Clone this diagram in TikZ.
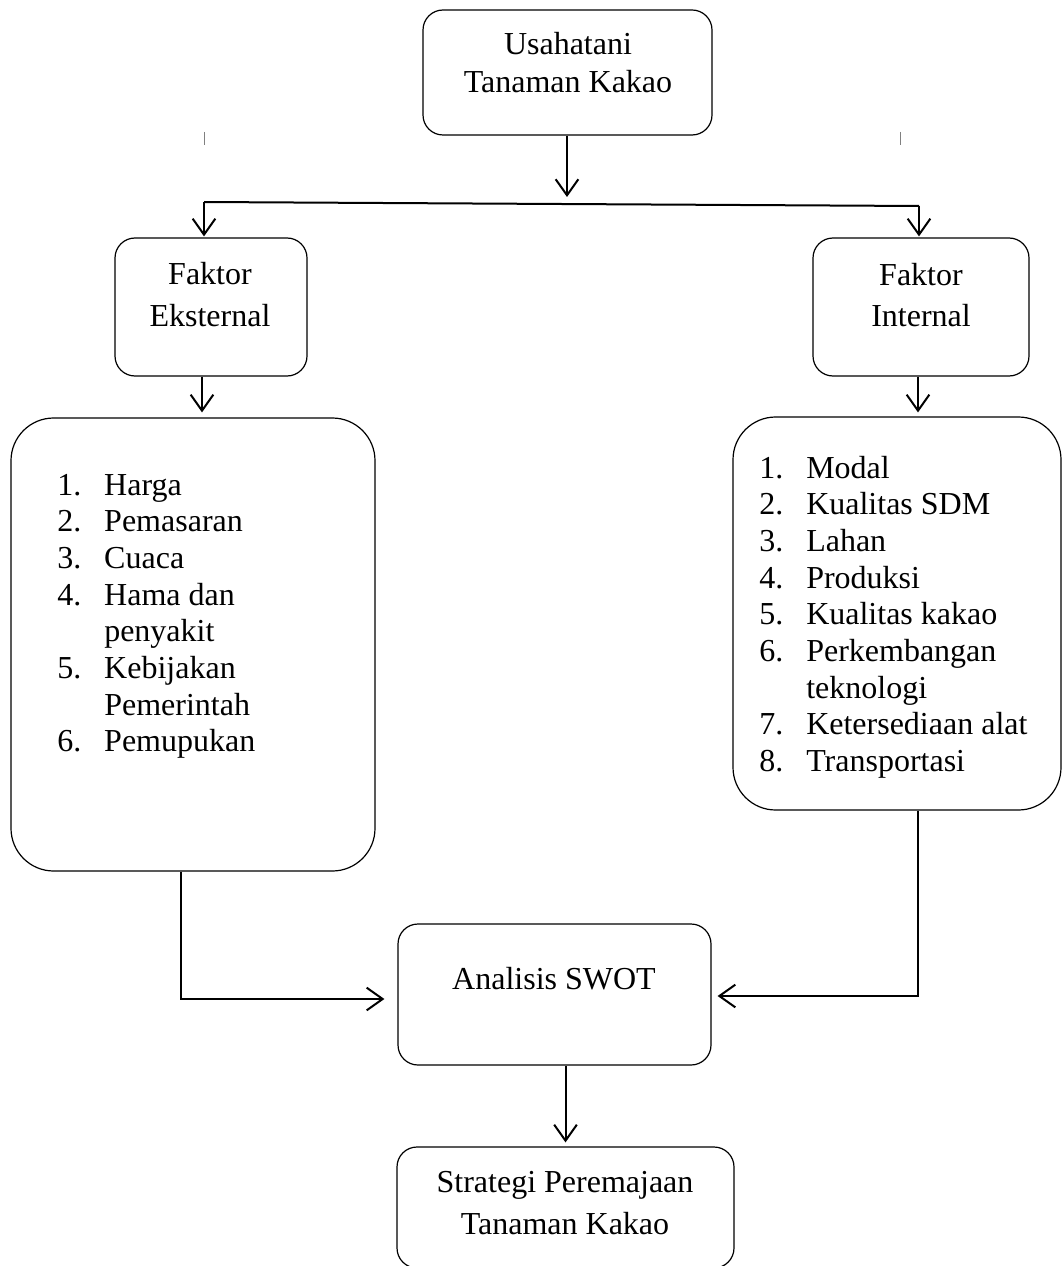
\documentclass[tikz,border=0pt]{standalone}
\usepackage{fontspec}
\setmainfont{Liberation Serif}
\usetikzlibrary{arrows.meta,calc}
\newcommand\numcell[1]{\makebox[35.25pt][l]{#1}}
\begin{document}
\begin{tikzpicture}[x=0.75pt,y=-0.75pt,
  box/.style={draw,line width=0.9pt,rounded corners=15pt,inner sep=0pt},
  bigbox/.style={draw,line width=0.9pt,rounded corners=32pt,inner sep=0pt},
  txt/.style={inner sep=0pt,anchor=base},
  listtxt/.style={inner sep=0pt,anchor=base west},
  conn/.style={line width=1.5pt},
  arr/.style={line width=1.5pt,-{Straight Barb[length=12pt,width=17pt,line width=1.5pt]}},
  tick/.style={line width=0.6pt,gray}]
\useasboundingbox (0,0) rectangle (1062,1266);
% boxes
\node[box,minimum width=216.75pt,minimum height=93.75pt] (top) at (567.5,72.5) {};
\node[box,minimum width=144pt,minimum height=103.5pt] (ekst) at (211,307) {};
\node[box,minimum width=162pt,minimum height=103.5pt] (intl) at (921,307) {};
\node[bigbox,minimum width=273pt,minimum height=339.75pt] (leftbig) at (193,644.5) {};
\node[bigbox,minimum width=246pt,minimum height=294.75pt] (rightbig) at (897,613.5) {};
\node[box,minimum width=234.75pt,minimum height=105.75pt] (swot) at (554.5,994.5) {};
\node[box,minimum width=252.75pt,minimum height=90.75pt] (strat) at (565.5,1207.5) {};
% texts
\node[txt] (toptxt) at (568,55) {\fontsize{24}{28}\selectfont\begin{tabular}[t]{@{}c@{}}Usahatani\\Tanaman Kakao\end{tabular}};
\node[txt] (eksttxt) at (210,284) {\fontsize{24}{32.25}\selectfont\begin{tabular}[t]{@{}c@{}}Faktor\\Eksternal\end{tabular}};
\node[txt] (intltxt) at (921,285) {\fontsize{24}{31.5}\selectfont\begin{tabular}[t]{@{}c@{}}Faktor\\Internal\end{tabular}};
\node[txt] (swottxt) at (554,989) {\fontsize{24}{27.5}\selectfont Analisis SWOT};
\node[txt] (strattxt) at (565,1192) {\fontsize{24}{31.5}\selectfont\begin{tabular}[t]{@{}c@{}}Strategi Peremajaan\\Tanaman Kakao\end{tabular}};
\node[listtxt] (leftlist) at (57,495) {\fontsize{24}{27.5}\selectfont\begin{tabular}[t]{@{}l@{}}
\numcell{1.}Harga\\
\numcell{2.}Pemasaran\\
\numcell{3.}Cuaca\\
\numcell{4.}Hama dan\\
\numcell{}penyakit\\
\numcell{5.}Kebijakan\\
\numcell{}Pemerintah\\
\numcell{6.}Pemupukan
\end{tabular}};
\node[listtxt] (rightlist) at (759,478) {\fontsize{24}{27.5}\selectfont\begin{tabular}[t]{@{}l@{}}
\numcell{1.}Modal\\
\numcell{2.}Kualitas SDM\\
\numcell{3.}Lahan\\
\numcell{4.}Produksi\\
\numcell{5.}Kualitas kakao\\
\numcell{6.}Perkembangan\\
\numcell{}teknologi\\
\numcell{7.}Ketersediaan alat\\
\numcell{8.}Transportasi
\end{tabular}};
% stray ticks
\draw[tick] (204,132) -- (204,145);
\draw[tick] (900,132) -- (900,145);
% connectors
\coordinate (jL) at (204,202);
\coordinate (jR) at (919,206);
\coordinate (jM) at (567,197);
\draw[arr] (top.south -| jM) -- (jM);
\draw[conn] (jL) -- (jR);
\draw[arr] (jL) -- ($(jL |- ekst.north)+(0,-1)$);
\draw[arr] (jR) -- ($(jR |- intl.north)+(0,-1)$);
\draw[arr] ($(ekst.south)+(-9,0)$) -- ($(leftbig.north)+(9,-5)$);
\draw[arr] ($(intl.south)+(-3,0)$) -- ($(rightbig.north)+(21,-4)$);
\draw[arr] ($(leftbig.south)+(-12,0)$) |- ($(swot.west)+(-13,4.5)$);
\draw[arr] ($(rightbig.south)+(21,0)$) |- ($(swot.east)+(6,1.5)$);
\draw[arr] ($(swot.south)+(11,0)$) -- ($(strat.north)+(0,-4)$);
\end{tikzpicture}
\end{document}
